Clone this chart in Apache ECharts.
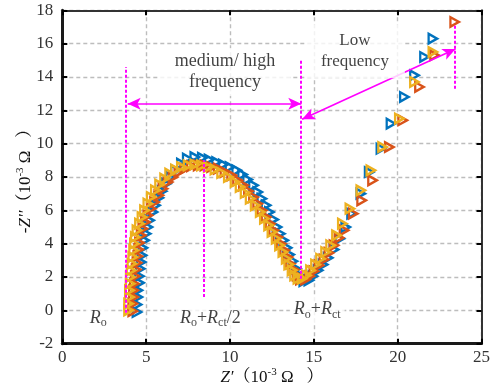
<!DOCTYPE html>
<html><head><meta charset="utf-8">
<script src="https://cdn.jsdelivr.net/npm/echarts@6/dist/echarts.min.js"></script>
<style>html,body{margin:0;padding:0;background:#fff}#c{width:501px;height:390px}</style>
</head><body><div id="c"></div>
<script>
const xTicks = [0, 5, 10, 15, 20, 25];
const yTicks = [-2, 0, 2, 4, 6, 8, 10, 12, 14, 16, 18];

const blueZ = [[4.45,-0.1],[4.45,0.35],[4.5,0.8],[4.5,1.2],[4.6,1.65],[4.6,2.05],[4.65,2.5],[4.7,2.9],[4.75,3.3],[4.8,3.75],[4.9,4.2],[5.0,4.6],[5.1,5.0],[5.2,5.4],[5.4,5.9],[5.55,6.3],[5.75,6.75],[5.95,7.15],[6.2,7.6],[6.45,8.0],[6.75,8.4],[7.1,8.8],[7.45,9.1],[7.9,9.2],[8.35,9.15],[8.75,9.05],[9.2,8.9],[9.6,8.75],[10.0,8.6],[10.4,8.4],[10.75,8.15],[11.05,7.85],[11.4,7.5],[11.65,7.1],[11.9,6.7],[12.15,6.3],[12.35,5.9],[12.6,5.45],[12.8,5.0],[13.0,4.6],[13.2,4.2],[13.4,3.75],[13.55,3.35],[13.75,2.95],[13.95,2.5],[14.15,2.1],[14.4,1.75],[14.7,1.8],[14.95,2.05],[15.25,2.4],[15.55,2.75],[15.85,3.15],[16.2,3.65],[16.55,4.3],[16.9,5.0],[17.25,5.8],[17.8,7.0],[18.3,8.3],[19.0,9.7],[19.6,11.2],[20.4,12.8],[21.0,14.1],[21.6,15.2],[22.1,16.3]];
const orangeZ = [[4.2,-0.05],[4.2,0.4],[4.25,0.8],[4.25,1.2],[4.3,1.6],[4.35,2.05],[4.4,2.45],[4.45,2.85],[4.5,3.25],[4.55,3.65],[4.6,4.05],[4.7,4.5],[4.8,4.9],[4.95,5.3],[5.1,5.7],[5.3,6.1],[5.5,6.5],[5.75,6.9],[6.0,7.3],[6.3,7.7],[6.6,8.0],[6.95,8.3],[7.3,8.5],[7.7,8.65],[8.1,8.7],[8.5,8.7],[8.9,8.6],[9.3,8.5],[9.7,8.3],[10.1,8.1],[10.45,7.8],[10.8,7.5],[11.1,7.15],[11.4,6.8],[11.65,6.4],[11.9,6.0],[12.15,5.6],[12.4,5.2],[12.6,4.8],[12.85,4.4],[13.05,4.0],[13.25,3.6],[13.45,3.2],[13.6,2.8],[13.8,2.45],[14.0,2.1],[14.2,1.85],[14.5,1.85],[14.75,2.05],[15.0,2.35],[15.3,2.7],[15.6,3.05],[15.9,3.45],[16.2,3.9],[16.5,4.35],[16.8,4.8],[17.35,5.8],[17.85,6.6],[18.5,7.8],[19.5,9.8],[20.3,11.4],[21.3,13.4],[22.2,15.3],[23.4,17.3]];
const yellowZ = [[3.95,0.0],[3.95,0.4],[4.0,0.8],[4.0,1.2],[4.05,1.6],[4.05,2.0],[4.1,2.4],[4.15,2.8],[4.2,3.2],[4.25,3.6],[4.3,4.0],[4.35,4.4],[4.45,4.8],[4.6,5.2],[4.75,5.6],[4.9,6.0],[5.1,6.4],[5.3,6.8],[5.55,7.2],[5.8,7.55],[6.1,7.9],[6.4,8.2],[6.75,8.45],[7.1,8.6],[7.5,8.7],[7.9,8.75],[8.3,8.7],[8.7,8.6],[9.1,8.45],[9.5,8.25],[9.9,8.0],[10.3,7.7],[10.6,7.4],[10.9,7.05],[11.2,6.7],[11.5,6.3],[11.8,5.9],[12.05,5.5],[12.3,5.1],[12.5,4.7],[12.75,4.3],[12.95,3.9],[13.15,3.5],[13.35,3.1],[13.5,2.75],[13.7,2.4],[13.85,2.1],[14.05,1.9],[14.3,1.9],[14.55,2.1],[14.8,2.4],[15.1,2.75],[15.4,3.1],[15.7,3.5],[16.0,3.9],[16.35,4.5],[16.7,5.2],[17.15,6.1],[17.8,7.2],[18.4,8.4],[19.1,9.8],[20.1,11.5],[21.0,13.7],[22.1,15.5]];

// annotation guides (data units)
const guideLines = [[[3.8,-0.15],[3.8,14.6]],[[8.45,0.8],[8.45,9.0]],[[14.25,1.9],[14.25,15.0]],[[23.4,13.3],[23.4,17.1]]];
const arrowLines = [[[3.9,12.4],[14.25,12.4]],[[14.3,11.46],[23.45,15.68]]];
const textNotes = [
  {pos:[9.7,14.3], text:'{t|medium/ high}\n{t|frequency}', pad:[3,15]},
  {pos:[17.45,15.55], text:'{s|Low}\n{s|frequency}', pad:[6,16]},
  {pos:[2.15,-0.45], text:'{i|R}{sub|o}', pad:[2,4]},
  {pos:[8.83,-0.45], text:'{i|R}{sub|o}{n|+}{i|R}{sub|ct}{n|/2}', pad:[3,4]},
  {pos:[15.2,0.05], text:'{i|R}{sub|o}{n|+}{i|R}{sub|ct}', pad:[2,4]}
];

const SERIF = "'Liberation Serif','Times New Roman','Noto Serif CJK SC','Noto Sans CJK SC',serif";
const rich = {
  t:{fontFamily:SERIF,fontSize:18,lineHeight:21,color:'#111'},
  s:{fontFamily:SERIF,fontSize:17,lineHeight:21,color:'#111'},
  i:{fontFamily:SERIF,fontSize:18,fontStyle:'italic',lineHeight:22,color:'#111'},
  n:{fontFamily:SERIF,fontSize:18,lineHeight:22,color:'#111'},
  sub:{fontFamily:SERIF,fontSize:12,lineHeight:12,verticalAlign:'bottom',color:'#111'},
  sup:{fontFamily:SERIF,fontSize:11,lineHeight:11,verticalAlign:'top',color:'#111'}
};
const nameRich = {
  i:{fontFamily:SERIF,fontSize:17,fontStyle:'italic',lineHeight:22,color:'#111'},
  n:{fontFamily:SERIF,fontSize:17,lineHeight:22,color:'#111'},
  sup:{fontFamily:SERIF,fontSize:11,lineHeight:11,verticalAlign:'top',color:'#111'}
};

const colors = ['#0072BD','#D95319','#EDB120'];
function markerSeries(name, data, color){
  return {name, type:'scatter', data, symbol:'triangle', symbolSize:[9.5,8.5], symbolRotate:-90,
    itemStyle:{color:'rgba(255,255,255,0)', borderColor:color, borderWidth:2.4, opacity:1},
    emphasis:{disabled:true}, z:3};
}

const axisCommon = {type:'value', splitLine:{show:false}, axisLabel:{show:false}, axisTick:{show:true, inside:true, length:5, lineStyle:{color:'#000', width:2}}};

const option = {
  animation:false,
  grid:{left:62.3, right:19.5, top:10.3, bottom:46.3, containLabel:false, outerBoundsMode:'none'},
  xAxis:[
    {type:'value', min:0, max:25, interval:5, position:'bottom',
      axisLine:{show:true, onZero:false, lineStyle:{color:'#1a1a1a', width:3}},
      axisTick:{show:true, inside:true, length:5, lineStyle:{color:'#000', width:2}},
      axisLabel:{show:true, color:'#333', fontFamily:SERIF, fontSize:17, margin:5},
      splitLine:{show:true, lineStyle:{color:'#bdbdbd', width:1.4, type:[4,3]}},
      name:'{i|Z′}{n|（10}{sup|-3}{n| Ω   ）}', nameLocation:'middle', nameGap:23, nameMoveOverlap:false,
      nameTextStyle:{rich:nameRich}
    },
    Object.assign({}, axisCommon, {min:0, max:25, interval:5, position:'top',
      axisLine:{show:true, onZero:false, lineStyle:{color:'#333', width:2}}})
  ],
  yAxis:[
    {type:'value', min:-2, max:18, interval:2, position:'left',
      axisLine:{show:true, onZero:false, lineStyle:{color:'#1a1a1a', width:3}},
      axisTick:{show:true, inside:true, length:5, lineStyle:{color:'#000', width:2}},
      axisLabel:{show:true, color:'#333', fontFamily:SERIF, fontSize:17, margin:9},
      splitLine:{show:true, lineStyle:{color:'#bdbdbd', width:1.4, type:[4,3]}},
      name:'{n|-}{i|Z′′}{n|（10}{sup|-3}{n| Ω   ）}', nameLocation:'middle', nameGap:26, nameMoveOverlap:false,
      nameTextStyle:{rich:nameRich}
    },
    Object.assign({}, axisCommon, {min:-2, max:18, interval:2, position:'right',
      axisLine:{show:true, onZero:false, lineStyle:{color:'#333', width:2}}})
  ],
  series:[
    markerSeries('s1', blueZ, colors[0]),
    markerSeries('s2', orangeZ, colors[1]),
    markerSeries('s3', yellowZ, colors[2]),
    {name:'notes', type:'scatter', symbolSize:0, z:5, silent:true,
      data: textNotes.map(n => ({value:n.pos, label:{show:true, position:'inside', formatter:n.text, rich, backgroundColor:'#fff', padding:n.pad, align:'center', verticalAlign:'middle'}})),
      markLine:{silent:true, animation:false, symbol:'none', label:{show:false}, emphasis:{disabled:true},
        data: guideLines.map(l => [{coord:l[0], lineStyle:{color:'#ff00ff', width:2, type:[3,2]}}, {coord:l[1]}])
          .concat(arrowLines.map(l => [{coord:l[0], symbol:'arrow', symbolSize:[9,13], lineStyle:{color:'#ff00ff', width:1.6, type:'solid'}}, {coord:l[1], symbol:'arrow', symbolSize:[9,13]}]))
      }
    }
  ]
};
const chart = echarts.init(document.getElementById('c'), null, {renderer:'canvas'});
chart.setOption(option);
</script></body></html>
